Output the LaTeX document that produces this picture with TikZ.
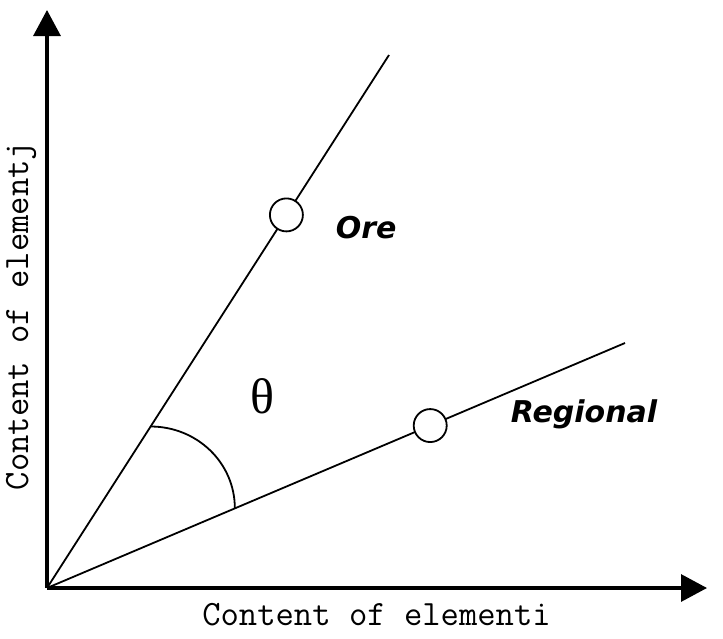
\documentclass[tikz,border=0pt]{standalone}
\usepackage{fontspec}
\setsansfont{DejaVu Sans}
\newfontfamily\thetafont{Liberation Serif}
\usetikzlibrary{arrows.meta}

\begin{document}
\begin{tikzpicture}[x=1pt,y=-1pt,line width=1.8pt,
  axis/.style={line width=3.2pt,-{Triangle[length=26pt,width=27pt]}},
  dot/.style={circle,draw,fill=white,line width=1.8pt,minimum size=33pt,inner sep=0pt},
  tag/.style={font=\fontsize{30}{30}\sffamily\bfseries\itshape,anchor=base west,inner sep=0pt},
  axlabel/.style={font=\fontsize{35.6}{36}\ttfamily,anchor=base,inner sep=0pt}]
\useasboundingbox (0,0) rectangle (723,638);
\coordinate (O) at (47,588);
\coordinate (Y) at (47,10);
\coordinate (X) at (707,588);
\coordinate (A) at (389,55);
\coordinate (B) at (625,343);
\draw (O)--(A) coordinate[pos=0.303](a1) node[dot,pos=0.7](ore){};
\draw (O)--(B) coordinate[pos=0.325](a2) node[dot,pos=0.663](reg){};
\draw (a1) .. controls +(46,0) and +(0,-46) .. (a2);
\draw[axis] (O)--(Y);
\draw[axis] (O)--(X);
\node[tag] (oretag) at (335,238) {Ore};
\node[tag] (regtag) at (510,422) {Regional};
\node[font=\fontsize{50}{50}\thetafont,inner sep=0pt] (theta) at (262,396) {θ};
\node[axlabel] (xlab) at (376.5,625) {Content of elementi};
\node[axlabel,rotate=90] (ylab) at (28,316) {Content of elementj};
\end{tikzpicture}
\end{document}
